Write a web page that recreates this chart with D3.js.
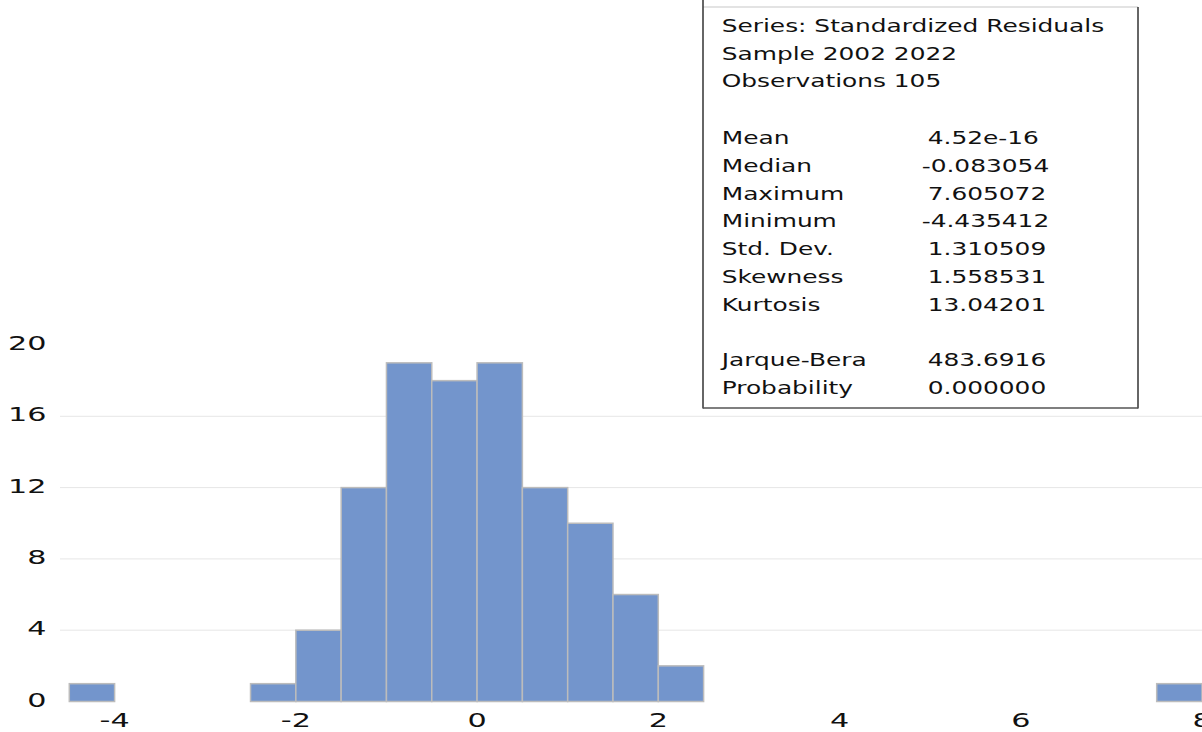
<!DOCTYPE html>
<html>
<head>
<meta charset="utf-8">
<script src="https://cdn.jsdelivr.net/npm/d3@7"></script>
<style>
  html, body { margin: 0; padding: 0; background: #ffffff; }
  svg { display: block; }
  text { font-family: "DejaVu Sans", Verdana, sans-serif; fill: #111; }
</style>
</head>
<body>
<svg id="chart" width="1202" height="732"></svg>
<script>
// ---------- data ----------
const binStarts = [-4.5, -4.0, -3.5, -3.0, -2.5, -2.0, -1.5, -1.0, -0.5, 0.0, 0.5, 1.0, 1.5, 2.0,
                   2.5, 3.0, 3.5, 4.0, 4.5, 5.0, 5.5, 6.0, 6.5, 7.0, 7.5];
const counts    = [1, 0, 0, 0, 1, 4, 12, 19, 18, 19, 12, 10, 6, 2,
                   0, 0, 0, 0, 0, 0, 0, 0, 0, 0, 1];
const binWidth = 0.5;
const xTicks = [-4, -2, 0, 2, 4, 6, 8];
const yTicks = [0, 4, 8, 12, 16, 20];
const headerLines = ["Series: Standardized Residuals", "Sample 2002 2022", "Observations 105"];
const statLabels = ["Mean", "Median", "Maximum", "Minimum", "Std. Dev.", "Skewness", "Kurtosis"];
const statValues = ["4.52e-16", "-0.083054", "7.605072", "-4.435412", "1.310509", "1.558531", "13.04201"];
const testLabels = ["Jarque-Bera", "Probability"];
const testValues = ["483.6916", "0.000000"];

// ---------- layout ----------
const svg = d3.select("#chart");
const x = d3.scaleLinear().domain([-4.5, 8]).range([69.3, 1202]);
const y = d3.scaleLinear().domain([0, 20]).range([701.5, 345]);
const axisSX = 1.55, boxSX = 1.42;

// gridlines
svg.append("g").selectAll("line")
  .data(yTicks.filter(t => t > 0 && t < 20))
  .join("line")
  .attr("x1", 60).attr("x2", 1202)
  .attr("y1", d => y(d)).attr("y2", d => y(d))
  .attr("stroke", "#e6e6e6").attr("stroke-width", 1);

// bars
const bins = binStarts.map((s, i) => ({ s, c: counts[i] })).filter(d => d.c > 0);
svg.append("g").selectAll("rect")
  .data(bins)
  .join("rect")
  .attr("x", d => x(d.s))
  .attr("y", d => y(d.c))
  .attr("width", d => x(d.s + binWidth) - x(d.s))
  .attr("height", d => y(0) - y(d.c))
  .attr("fill", "#7395cc")
  .attr("stroke", "#bcbcbc")
  .attr("stroke-width", 1.5);

// y tick labels
svg.append("g").selectAll("text")
  .data(yTicks)
  .join("text")
  .attr("transform", d => `translate(46.5,${y(d) + 5}) scale(${axisSX},1)`)
  .attr("text-anchor", "end")
  .attr("font-size", 19.5)
  .text(d => d);

// x tick labels
svg.append("g").selectAll("text")
  .data(xTicks)
  .join("text")
  .attr("transform", d => `translate(${x(d)},727.3) scale(${axisSX},1)`)
  .attr("text-anchor", "middle")
  .attr("font-size", 19.5)
  .text(d => d < 0 ? "-" + Math.abs(d) : d);

// stats box
const box = svg.append("g");
box.append("rect").attr("x", 703).attr("y", 7).attr("width", 435).attr("height", 401)
  .attr("fill", "#ffffff").attr("stroke", "none");
box.append("line").attr("x1", 703).attr("x2", 1138).attr("y1", 7).attr("y2", 7)
  .attr("stroke", "#c8c8c8").attr("stroke-width", 1.2);
box.append("line").attr("x1", 703).attr("x2", 703).attr("y1", 0).attr("y2", 408.5)
  .attr("stroke", "#333").attr("stroke-width", 1.5);
box.append("line").attr("x1", 1138).attr("x2", 1138).attr("y1", 7).attr("y2", 408.5)
  .attr("stroke", "#333").attr("stroke-width", 1.5);
box.append("line").attr("x1", 703).attr("x2", 1138).attr("y1", 408).attr("y2", 408)
  .attr("stroke", "#555").attr("stroke-width", 1.5);

const lineH = 27.8;
function boxText(str, tx, ty) {
  box.append("text")
    .attr("transform", `translate(${tx},${ty}) scale(${boxSX},1)`)
    .attr("font-size", 17.5)
    .text(str);
}
headerLines.forEach((s, i) => boxText(s, 721.7, 31.7 + i * lineH));
statLabels.forEach((s, i) => {
  const ty = 144 + i * lineH;
  boxText(s, 721.7, ty);
  boxText(statValues[i], statValues[i].startsWith("-") ? 921.7 : 927.7, ty);
});
testLabels.forEach((s, i) => {
  const ty = 366.3 + i * lineH;
  boxText(s, 721.7, ty);
  boxText(testValues[i], 927.7, ty);
});
</script>
</body>
</html>
